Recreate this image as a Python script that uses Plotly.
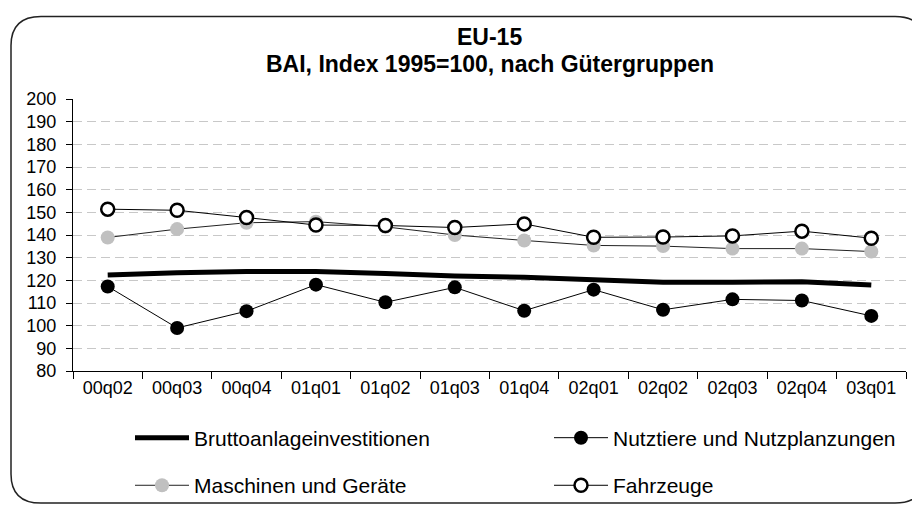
import plotly.graph_objects as go

categories = ["00q02", "00q03", "00q04", "01q01", "01q02", "01q03",
              "01q04", "02q01", "02q02", "02q03", "02q04", "03q01"]
brutto = [122.3, 123.4, 123.9, 123.9, 123.0, 121.9, 121.4, 120.1, 119.1, 119.1, 119.4, 117.9]
nutztiere = [117.3, 99.0, 106.4, 118.1, 110.3, 116.9, 106.6, 115.9, 107.0, 111.6, 111.1, 104.3]
maschinen = [138.9, 142.6, 145.4, 145.9, 143.6, 140.0, 137.6, 135.4, 135.1, 134.0, 134.0, 132.7]
fahrzeuge = [151.4, 150.9, 147.7, 144.4, 144.2, 143.3, 144.9, 139.0, 139.1, 139.6, 141.7, 138.6]

FONT = "Arial, Liberation Sans, sans-serif"
W, H = 920, 510
L, R, T, B = 65, 898, 91, 371
PW, PH = R - L, B - T


def px(x):
    return (x - L) / PW


def py(y):
    return (B - y) / PH


fig = go.Figure()
fig.add_trace(go.Scatter(x=categories, y=brutto, name="Bruttoanlageinvestitionen",
                         mode="lines", line=dict(color="black", width=5),
                         legend="legend"))
fig.add_trace(go.Scatter(x=categories, y=nutztiere, name="Nutztiere und Nutzplanzungen",
                         mode="lines+markers", line=dict(color="black", width=1),
                         marker=dict(size=14, color="black", line=dict(width=0)),
                         legend="legend2"))
fig.add_trace(go.Scatter(x=categories, y=maschinen, name="Maschinen und Geräte",
                         mode="lines+markers", line=dict(color="#222222", width=1),
                         marker=dict(size=14, color="#c0c0c0", line=dict(width=0)),
                         legend="legend3"))
fig.add_trace(go.Scatter(x=categories, y=fahrzeuge, name="Fahrzeuge",
                         mode="lines+markers", line=dict(color="black", width=1),
                         marker=dict(size=13, color="white", line=dict(color="black", width=2.5)),
                         legend="legend4"))

# rounded frame
x0, x1, y0, y1, r = 3, 917, 6, 507, 30
path = (f"M {px(x0 + r)},{py(y0)} L {px(x1 - r)},{py(y0)} "
        f"Q {px(x1)},{py(y0)} {px(x1)},{py(y0 + r)} "
        f"L {px(x1)},{py(y1 - r)} Q {px(x1)},{py(y1)} {px(x1 - r)},{py(y1)} "
        f"L {px(x0 + r)},{py(y1)} Q {px(x0)},{py(y1)} {px(x0)},{py(y1 - r)} "
        f"L {px(x0)},{py(y0 + r)} Q {px(x0)},{py(y0)} {px(x0 + r)},{py(y0)} Z")
fig.add_shape(type="path", path=path, xref="paper", yref="paper",
              line=dict(color="#222222", width=1.5), layer="below")

legend_common = dict(orientation="h", xanchor="left", yanchor="middle",
                     font=dict(family=FONT, size=21, color="black"),
                     itemwidth=54, bgcolor="rgba(0,0,0,0)", borderwidth=0,
                     itemclick=False, itemdoubleclick=False)

fig.update_layout(
    width=W, height=H,
    margin=dict(l=L, r=W - R, t=T, b=H - B),
    paper_bgcolor="white", plot_bgcolor="white",
    font=dict(family=FONT, color="black"),
    showlegend=True,
    legend=dict(x=px(122), y=py(440), **legend_common),
    legend2=dict(x=px(541), y=py(440), **legend_common),
    legend3=dict(x=px(122), y=py(489), **legend_common),
    legend4=dict(x=px(541), y=py(489), **legend_common),
    annotations=[
        dict(text="<b>EU-15</b>", x=0.5, y=py(27), xref="paper", yref="paper",
             showarrow=False, font=dict(family=FONT, size=23, color="black"),
             yanchor="middle"),
        dict(text="<b>BAI, Index 1995=100, nach Gütergruppen</b>", x=0.5, y=py(55),
             xref="paper", yref="paper", showarrow=False,
             font=dict(family=FONT, size=23, color="black"), yanchor="middle"),
    ],
)

fig.update_xaxes(type="category", categoryorder="array", categoryarray=categories,
                 range=[-0.5, len(categories) - 0.5],
                 showline=True, linecolor="black", linewidth=1,
                 ticks="outside", tickson="boundaries", ticklen=7, tickcolor="black",
                 showgrid=False, tickfont=dict(family=FONT, size=18, color="black"))
fig.update_yaxes(range=[80, 200], dtick=10, tick0=80,
                 showline=True, linecolor="black", linewidth=1,
                 ticks="outside", ticklen=6, tickcolor="black",
                 showgrid=True, gridcolor="#c8c8c8", gridwidth=1, griddash="9px,5px",
                 zeroline=False, ticklabelstandoff=6,
                 tickfont=dict(family=FONT, size=18, color="black"))

fig.write_html("out.html")
